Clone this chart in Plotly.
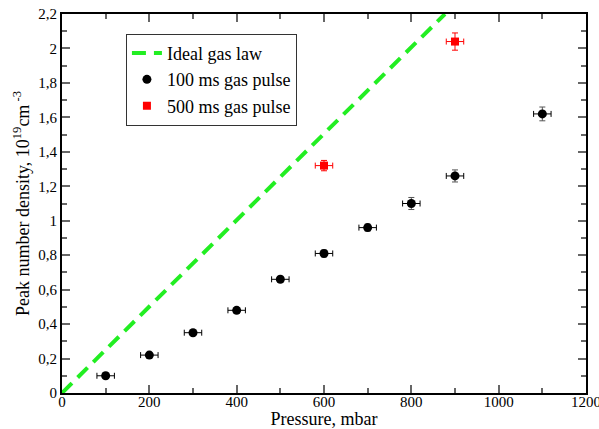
import plotly.graph_objects as go

# Data
p100 = [100, 200, 300, 400, 500, 600, 700, 800, 900, 1100]
n100 = [0.10, 0.22, 0.35, 0.48, 0.66, 0.81, 0.96, 1.10, 1.26, 1.62]
n100_err = [0.015, 0.015, 0.015, 0.015, 0.015, 0.02, 0.02, 0.035, 0.035, 0.04]
p100_err = [20] * 10

p500 = [600, 900]
n500 = [1.32, 2.04]
n500_err = [0.03, 0.05]
p500_err = [20, 20]

ideal_x = [0, 877]
ideal_y = [0, 2.2]

x_ticks = [0, 200, 400, 600, 800, 1000, 1200]
x_ticklabels = ["0", "200", "400", "600", "800", "1000", "1200"]
y_ticks = [0, 0.2, 0.4, 0.6, 0.8, 1.0, 1.2, 1.4, 1.6, 1.8, 2.0, 2.2]
y_ticklabels = ["0", "0,2", "0,4", "0,6", "0,8", "1", "1,2", "1,4", "1,6", "1,8", "2", "2,2"]

font = "Times New Roman"

fig = go.Figure()
fig.add_trace(go.Scatter(
    x=ideal_x, y=ideal_y, mode="lines", name="Ideal gas law",
    line=dict(color="#22ee22", width=4, dash="14px,8px"), cliponaxis=True))
fig.add_trace(go.Scatter(
    x=p100, y=n100, mode="markers", name="100 ms gas pulse",
    marker=dict(symbol="circle", size=9, color="black"),
    error_x=dict(type="data", array=p100_err, color="black", thickness=1, width=3),
    error_y=dict(type="data", array=n100_err, color="#555555", thickness=1, width=3)))
fig.add_trace(go.Scatter(
    x=p500, y=n500, mode="markers", name="500 ms gas pulse",
    marker=dict(symbol="square", size=8, color="red"),
    error_x=dict(type="data", array=p500_err, color="red", thickness=1, width=3),
    error_y=dict(type="data", array=n500_err, color="red", thickness=1, width=3)))

axis_common = dict(
    showgrid=False, zeroline=False, showline=True, linecolor="black", linewidth=2,
    mirror="ticks", ticks="inside", ticklen=8, tickcolor="#666666", tickwidth=1.5,
    tickfont=dict(family=font, size=15, color="black"),
    automargin=False, ticklabeloverflow="allow",
)

fig.update_layout(
    width=599, height=429,
    margin=dict(l=62, r=13, t=14, b=36),
    paper_bgcolor="white", plot_bgcolor="white",
    font=dict(family=font, color="black", size=15),
    showlegend=True,
    legend=dict(
        x=0.122, y=0.948, xanchor="left", yanchor="top",
        bgcolor="white", bordercolor="#333333", borderwidth=1,
        font=dict(family=font, size=18, color="black"),
        itemwidth=30, tracegroupgap=0,
    ),
    xaxis=dict(
        range=[0, 1200], tickvals=x_ticks, ticktext=x_ticklabels,
        minor=dict(ticks="inside", ticklen=5, tickcolor="#666666", dtick=100, tick0=0, showgrid=False),
        title=dict(text="Pressure, mbar", font=dict(family=font, size=18), standoff=2),
        ticklabelstandoff=-6,
        **axis_common),
    yaxis=dict(
        range=[0, 2.2], tickvals=y_ticks, ticktext=y_ticklabels,
        minor=dict(ticks="inside", ticklen=5, tickcolor="#666666", dtick=0.1, tick0=0, showgrid=False),
        title=dict(text="Peak number density, 10<sup>19</sup>cm<sup> -3</sup>",
                   font=dict(family=font, size=18), standoff=4),
        **axis_common),
)

fig.write_html("out.html")
